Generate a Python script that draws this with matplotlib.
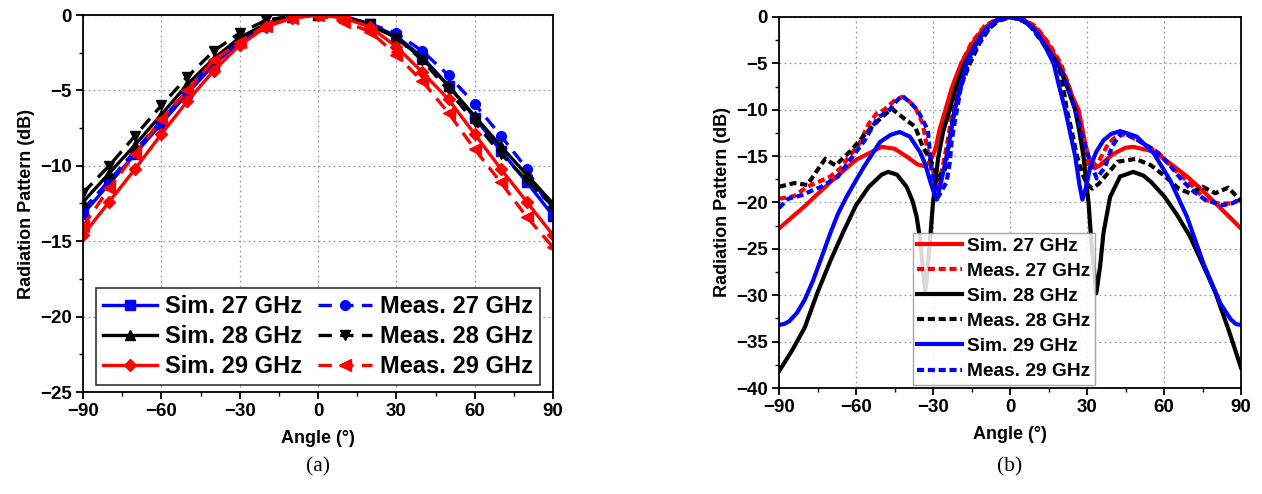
import numpy as np
import matplotlib
matplotlib.use("Agg")
import matplotlib.pyplot as plt
from matplotlib.ticker import MultipleLocator

plt.rcParams['font.family'] = ['Liberation Sans', 'DejaVu Sans']
plt.rcParams['font.weight'] = 'bold'
plt.rcParams['axes.labelweight'] = 'bold'

# ---------------- Panel (a) data ----------------
ang_a = [-90, -80, -70, -60, -50, -40, -30, -20, -10, 0, 10, 20, 30, 40, 50, 60, 70, 80, 90]
a_sim27 = [-13.2, -11.2, -9.2, -7.2, -5.2, -3.3, -1.8, -0.7, -0.1, 0, -0.1, -0.6, -1.4, -2.8, -4.7, -6.8, -9.0, -11.1, -13.3]
a_sim28 = [-12.4, -10.5, -8.6, -6.6, -4.6, -2.9, -1.5, -0.6, -0.1, 0, -0.1, -0.7, -1.5, -2.9, -4.7, -6.7, -8.7, -10.6, -12.5]
a_sim29 = [-14.6, -12.4, -10.2, -7.9, -5.7, -3.7, -2.0, -0.8, -0.2, 0, -0.2, -0.8, -2.1, -3.8, -5.6, -7.9, -10.2, -12.4, -14.6]
a_meas27 = [-12.9, -11.0, -9.0, -7.0, -5.0, -3.1, -1.65, -0.6, -0.1, 0, -0.1, -0.6, -1.2, -2.4, -4.0, -5.9, -8.0, -10.2, -13.2]
a_meas28 = [-11.8, -10.0, -8.0, -6.0, -4.1, -2.4, -1.2, -0.35, -0.05, 0, -0.1, -0.6, -1.5, -3.0, -5.0, -7.1, -9.2, -10.95, -12.7]
a_meas29 = [-14.0, -11.5, -9.2, -6.9, -5.0, -3.0, -1.8, -0.7, -0.2, 0, -0.45, -1.1, -2.65, -4.4, -6.5, -8.9, -11.1, -13.4, -15.4]

# ---------------- Panel (b) data ----------------
b_ang_sim27 = [-90, -80, -70, -60, -50, -45, -40, -36, -33, -31, -29, -27.5, -26, -24, -22.5, -19, -15, -12.5, -10, -7.5, -5, -2.5, 0,
               2.5, 5, 7.5, 10, 12.5, 15, 19.2, 22.5, 24.5, 26.7, 28, 29.3, 31, 33, 35, 40, 45, 48, 56, 62, 69, 75, 82, 90]
b_sim27 = [-22.8, -20.4, -17.8, -15.4, -14.0, -14.2, -15.1, -15.9, -16.1, -15.5, -14.2, -12.2, -10.8, -8.9, -7.5, -5.0, -3.0, -2.0, -1.2, -0.65, -0.3, -0.08, 0,
           -0.08, -0.3, -0.65, -1.2, -2.0, -3.0, -5.0, -7.2, -8.7, -10.0, -11.8, -13.6, -15.5, -16.3, -16.0, -14.8, -14.1, -14.0, -14.5, -15.7, -17.2, -18.7, -20.6, -22.8]

b_ang_sim28 = [-90, -85, -80, -75, -70, -65, -60, -55, -50, -47.5, -44, -40.3, -38, -36.4, -35, -34, -33, -32, -31, -30, -28, -26, -23.5, -21, -17.6, -14, -10, -7.5, -5, -2.5, 0,
               2.5, 5, 7.5, 10, 14, 18.5, 22, 25.4, 27, 28.6, 30.6, 31.9, 33.6, 35.1, 36.4, 39, 42.9, 48, 52, 55, 60, 65, 70, 75, 80, 85, 90]
b_sim28 = [-38.2, -36.0, -33.5, -29.7, -26.3, -23.2, -20.3, -18.3, -17.0, -16.7, -17.0, -18.3, -19.8, -21.5, -24.0, -27.0, -29.5, -27.0, -23.5, -20.0, -15.2, -12.3, -10.0, -7.5, -5.0, -3.2, -1.5, -0.85, -0.4, -0.1, 0,
           -0.1, -0.4, -0.85, -1.5, -3.2, -5.0, -7.3, -10.0, -12.3, -15.0, -20.0, -25.0, -29.8, -26.9, -23.3, -19.4, -17.2, -16.7, -17.1, -17.8, -19.3, -21.3, -23.6, -26.6, -29.7, -33.6, -37.8]

b_ang_sim29 = [-90, -88, -86, -83, -80, -76.7, -73, -70, -67, -63.7, -60, -57, -54, -50.7, -46.5, -43, -39, -35, -33, -31.2, -29.6, -28.5, -27, -24.7, -21.5, -19, -17, -13, -9, -5, -2.5, 0,
               2.5, 5, 9, 13, 17, 19, 21.5, 25.4, 27, 28.2, 29.5, 31.2, 33.5, 36.4, 39.5, 43, 49.4, 56, 62.4, 68.9, 75.4, 82, 86, 88, 90]
b_sim29 = [-33.2, -33.1, -32.8, -31.9, -30.5, -28.4, -25.6, -23.3, -21.2, -19.4, -17.6, -16.2, -14.9, -13.5, -12.7, -12.4, -12.9, -14.6, -15.9, -17.6, -19.0, -19.7, -18.0, -15.0, -10.0, -7.3, -5.0, -2.8, -1.2, -0.3, -0.08, 0,
           -0.08, -0.3, -1.2, -2.8, -5.0, -7.3, -10.0, -15.0, -18.0, -19.7, -18.5, -16.2, -14.6, -13.3, -12.6, -12.3, -12.9, -14.7, -17.6, -21.5, -26.6, -30.9, -32.6, -33.1, -33.2]

b_ang_meas27 = [-90, -84, -79, -74, -70, -66, -62, -59, -55, -52, -49, -45, -42, -40, -37, -34, -32, -30, -28.6, -26.5, -24.7, -22, -19, -15, -10, -5, 0,
                5, 10, 15, 19.8, 23, 25.4, 28, 30.5, 32.5, 34.5, 38.4, 41, 45, 51, 58, 63, 70, 76, 81, 86, 90]
b_meas27 = [-19.6, -19.3, -18.3, -17.7, -17.2, -16.3, -14.8, -13.8, -11.5, -10.4, -10.0, -9.0, -8.6, -8.9, -9.7, -11.5, -14.5, -16.5, -18.5, -16.5, -14.0, -9.5, -5.0, -2.8, -1.0, -0.2, 0,
            -0.2, -1.0, -2.8, -5.0, -7.5, -10.0, -13.3, -16.2, -16.0, -15.6, -13.6, -13.0, -12.6, -13.5, -14.7, -16.2, -17.9, -19.7, -20.1, -20.1, -19.7]

b_ang_meas28 = [-90, -84, -79, -75, -72, -68, -62, -55, -50, -46, -41, -37, -34, -31, -28, -25.4, -24, -22, -19.5, -15.6, -12, -8, -4, 0,
                4, 8, 12, 15, 18.2, 20, 22.1, 24, 26, 28, 30, 32, 34.5, 37, 42, 49, 55, 60.5, 65.7, 70, 75, 80, 85, 90]
b_meas28 = [-18.3, -17.9, -18.1, -16.5, -15.3, -16.0, -14.4, -12.2, -10.8, -9.9, -11.0, -11.8, -14.0, -15.4, -17.4, -16.5, -14.2, -10.6, -7.7, -5.0, -2.9, -1.2, -0.3, 0,
            -0.2, -1.0, -2.5, -3.7, -5.0, -6.3, -10.0, -12.2, -14.9, -16.8, -18.0, -18.5, -18.0, -17.2, -15.6, -15.3, -16.0, -17.2, -18.5, -19.0, -18.3, -19.0, -18.4, -19.8]

b_ang_meas29 = [-90, -86.5, -81, -77, -73.5, -67, -62, -56.6, -51.4, -47.5, -44, -42, -39, -36, -32, -30.6, -28, -24.7, -23.4, -22.8, -21.5, -19, -15.6, -11, -6, 0,
                6, 10, 13, 17, 21, 24, 26.5, 28.6, 31.2, 33.8, 37, 39.7, 43.6, 50, 56.6, 61.8, 67, 71, 76, 82.6, 86.5, 90]
b_meas29 = [-20.6, -19.6, -19.2, -18.7, -18.3, -17.2, -15.3, -13.3, -10.8, -10.2, -9.0, -8.5, -9.2, -10.05, -12.2, -16.5, -19.4, -17.8, -15.6, -13.5, -11.3, -7.4, -4.5, -2.2, -0.6, 0,
            -0.5, -1.5, -2.7, -4.5, -6.3, -8.8, -10.95, -13.3, -15.6, -17.4, -16.2, -14.0, -12.4, -13.3, -14.4, -15.8, -17.6, -18.7, -19.7, -20.3, -20.1, -19.6]

W, H = 1262, 494
fig = plt.figure(figsize=(W / 100, H / 100), dpi=100)

def ax_rect(l, r, t, b):
    return [l / W, 1 - b / H, (r - l) / W, (b - t) / H]

ax1 = fig.add_axes(ax_rect(83, 553, 15, 392))
ax2 = fig.add_axes(ax_rect(779, 1241, 17, 388))

def style(ax, ymin, ymax):
    ax.set_xlim(-90, 90)
    ax.set_ylim(ymin, ymax)
    ax.xaxis.set_major_locator(MultipleLocator(30))
    ax.xaxis.set_minor_locator(MultipleLocator(15))
    ax.yaxis.set_major_locator(MultipleLocator(5))
    ax.yaxis.set_minor_locator(MultipleLocator(2.5))
    ax.grid(True, which='major', color='#999999', linestyle=(0, (1.5, 2.5)), linewidth=0.9)
    ax.set_axisbelow(True)
    ax.tick_params(which='major', direction='out', length=5, width=1.3, labelsize=13.5, pad=3)
    ax.tick_params(which='minor', direction='out', length=3, width=1.0)
    for s in ax.spines.values():
        s.set_linewidth(1.3)
    ax.set_xlabel('Angle (°)', fontsize=13, fontweight='bold', labelpad=7)
    ax.set_ylabel('Radiation Pattern (dB)', fontsize=13, fontweight='bold', labelpad=4)
    for lab in ax.get_xticklabels() + ax.get_yticklabels():
        lab.set_fontweight('bold')

# ----- Panel (a) -----
lw_a = 2.4
ms = 7
dash_a = (0, (4, 2.5))
ax1.plot(ang_a, a_sim27, color='blue', lw=lw_a, marker='s', ms=ms, label='Sim. 27 GHz')
ax1.plot(ang_a, a_meas27, color='blue', lw=lw_a, ls=dash_a, marker='o', ms=ms, label='Meas. 27 GHz')
ax1.plot(ang_a, a_sim28, color='black', lw=lw_a, marker='^', ms=ms, label='Sim. 28 GHz')
ax1.plot(ang_a, a_meas28, color='black', lw=lw_a, ls=dash_a, marker='v', ms=ms, label='Meas. 28 GHz')
ax1.plot(ang_a, a_sim29, color='red', lw=lw_a, marker='D', ms=6, label='Sim. 29 GHz')
ax1.plot(ang_a, a_meas29, color='red', lw=lw_a, ls=dash_a, marker='<', ms=ms + 1, label='Meas. 29 GHz')
style(ax1, -25, 0)
h, l = ax1.get_legend_handles_labels()
order = [0, 2, 4, 1, 3, 5]
leg1 = ax1.legend([h[i] for i in order], [l[i] for i in order], ncol=2, loc='lower center',
                  bbox_to_anchor=(0.5, 0.005), fontsize=17, frameon=True, fancybox=False,
                  edgecolor='#333333', framealpha=1, handlelength=2.3, handletextpad=0.35,
                  columnspacing=0.65, labelspacing=0.3, borderpad=0.3, borderaxespad=0.2)
leg1.get_frame().set_linewidth(1.2)
for t in leg1.get_texts():
    t.set_fontweight('bold')

# ----- Panel (b) -----
lw_b = 3.0
dash_b = (0, (1.7, 0.9))
ax2.plot(b_ang_sim27, b_sim27, color='red', lw=lw_b, label='Sim. 27 GHz')
ax2.plot(b_ang_meas27, b_meas27, color='red', lw=lw_b, ls=dash_b, label='Meas. 27 GHz')
ax2.plot(b_ang_sim28, b_sim28, color='black', lw=lw_b, label='Sim. 28 GHz')
ax2.plot(b_ang_meas28, b_meas28, color='black', lw=lw_b, ls=dash_b, label='Meas. 28 GHz')
ax2.plot(b_ang_sim29, b_sim29, color='blue', lw=lw_b, label='Sim. 29 GHz')
ax2.plot(b_ang_meas29, b_meas29, color='blue', lw=lw_b, ls=dash_b, label='Meas. 29 GHz')
style(ax2, -40, 0)
leg2 = ax2.legend(loc='lower center', bbox_to_anchor=(0.487, 0.008), fontsize=13.8, frameon=True,
                  fancybox=False, edgecolor='#999999', framealpha=0.85, handlelength=2.35,
                  handletextpad=0.25, labelspacing=0.4, borderpad=0.25, borderaxespad=0.0)
for t in leg2.get_texts():
    t.set_fontweight('bold')

# captions
fig.text(318 / W, 1 - 467 / H, '(a)', fontsize=15.5, fontweight='normal',
         family=['Liberation Serif', 'DejaVu Serif'], ha='center', va='center')
fig.text(1010 / W, 1 - 467 / H, '(b)', fontsize=15.5, fontweight='normal',
         family=['Liberation Serif', 'DejaVu Serif'], ha='center', va='center')

fig.savefig('out.png', dpi=100)
